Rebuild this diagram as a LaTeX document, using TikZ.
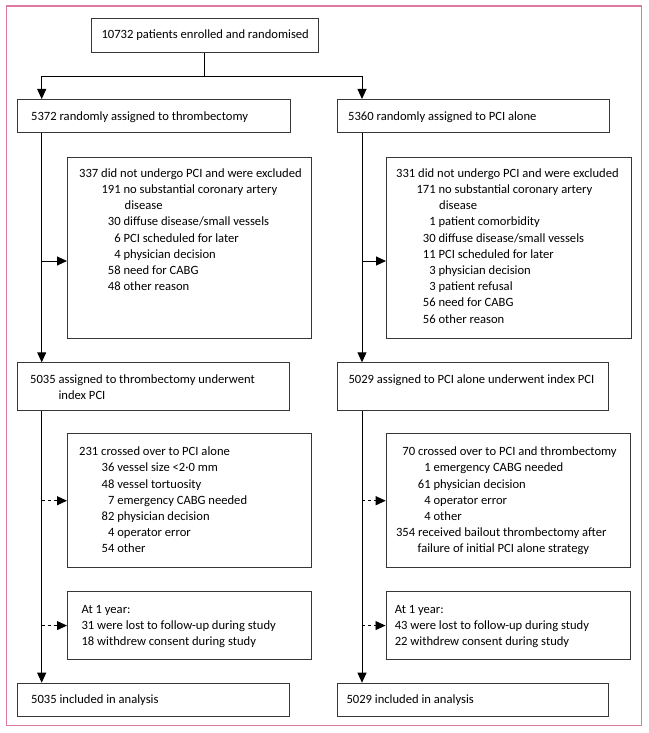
\documentclass[tikz,border=0pt]{standalone}
\usepackage{fontspec}
\setmainfont{Carlito}
\usetikzlibrary{arrows.meta}
\definecolor{framepink}{RGB}{222,122,162}
\definecolor{boxgray}{RGB}{55,55,55}
\newcommand{\nx}[2]{\makebox[#1][r]{#2}\ }
\newcommand{\rows}[1]{\begin{tabular}[t]{@{}l@{}}#1\end{tabular}}
\begin{document}
\begin{tikzpicture}[x=1pt,y=-1pt,
  box/.style={draw=boxgray, line width=0.85pt, inner sep=0pt, anchor=north west},
  txt/.style={inner sep=0pt, anchor=base west, font=\fontsize{12.6}{16.2}\selectfont},
  conn/.style={line width=0.9pt, -{Triangle[length=10pt,width=9pt]}},
  dconn/.style={conn, dash pattern=on 3pt off 3pt},
]
\useasboundingbox (0,0) rectangle (648,733);
\draw[framepink, line width=1.2pt] (6.3,6) rectangle (641.7,725.7);

% boxes
\node[box, minimum width=227pt, minimum height=34pt] (top) at (91,18.3) {};
\node[box, minimum width=272.5pt, minimum height=33.3pt] (A1) at (17,99) {};
\node[box, minimum width=271.5pt, minimum height=33.3pt] (B1) at (337,99) {};
\node[box, minimum width=243.7pt, minimum height=181.3pt] (A2) at (67,156.7) {};
\node[box, minimum width=244.5pt, minimum height=181.3pt] (B2) at (386,156.7) {};
\node[box, minimum width=272.3pt, minimum height=48pt] (A3) at (17,362.3) {};
\node[box, minimum width=271.3pt, minimum height=48pt] (B3) at (337,362.3) {};
\node[box, minimum width=243.7pt, minimum height=134pt] (A4) at (67,433.3) {};
\node[box, minimum width=244.3pt, minimum height=134pt] (B4) at (385.7,433.3) {};
\node[box, minimum width=243.7pt, minimum height=68.3pt] (A5) at (67,591) {};
\node[box, minimum width=244.5pt, minimum height=68.3pt] (B5) at (385.5,591) {};
\node[box, minimum width=272.3pt, minimum height=33.3pt] (A6) at (17,682.7) {};
\node[box, minimum width=271.3pt, minimum height=33.3pt] (B6) at (337,682.7) {};

% texts
\node[txt, anchor=base] (tTop) at (205.2,39) {10732 patients enrolled and randomised};
\node[txt] (tA1) at (31,120.7) {5372 randomly assigned to thrombectomy};
\node[txt] (tB1) at (348,120.7) {5360 randomly assigned to PCI alone};
\node[txt] (tA2) at (79,177.3) {\rows{337 did not undergo PCI and were excluded\\
 \nx{41.5pt}{191}no substantial coronary artery\\
 \hspace*{45.5pt}disease\\
 \nx{41.5pt}{30}diffuse disease/small vessels\\
 \nx{41.5pt}{6}PCI scheduled for later\\
 \nx{41.5pt}{4}physician decision\\
 \nx{41.5pt}{58}need for CABG\\
 \nx{41.5pt}{48}other reason}};
\node[txt] (tB2) at (396,177.3) {\rows{331 did not undergo PCI and were excluded\\
 \nx{39.5pt}{171}no substantial coronary artery\\
 \hspace*{43pt}disease\\
 \nx{39.5pt}{1}patient comorbidity\\
 \nx{39.5pt}{30}diffuse disease/small vessels\\
 \nx{39.5pt}{11}PCI scheduled for later\\
 \nx{39.5pt}{3}physician decision\\
 \nx{39.5pt}{3}patient refusal\\
 \nx{39.5pt}{56}need for CABG\\
 \nx{39.5pt}{56}other reason}};
\node[txt] (tA3) at (30,383.3) {\rows{5035 assigned to thrombectomy underwent\\
 \hspace*{28.3pt}index PCI}};
\node[txt] (tB3) at (348.3,383.3) {5029 assigned to PCI alone underwent index PCI};
\node[txt] (tA4) at (79,455.7) {\rows{231 crossed over to PCI alone\\
 \nx{35.3pt}{36}vessel size <2·0 mm\\
 \nx{35.3pt}{48}vessel tortuosity\\
 \nx{35.3pt}{7}emergency CABG needed\\
 \nx{35.3pt}{82}physician decision\\
 \nx{35.3pt}{4}operator error\\
 \nx{35.3pt}{54}other}};
\node[txt] (tB4) at (394,455.7) {\rows{\nx{21pt}{70}crossed over to PCI and thrombectomy\\
 \nx{36.5pt}{1}emergency CABG needed\\
 \nx{36.5pt}{61}physician decision\\
 \nx{36.5pt}{4}operator error\\
 \nx{36.5pt}{4}other\\
 \nx{21pt}{354}received bailout thrombectomy after\\
 \hspace*{23.5pt}failure of initial PCI alone strategy}};
\node[txt] (tA5) at (81.4,613.3) {\rows{At 1 year:\\
 31 were lost to follow-up during study\\
 18 withdrew consent during study}};
\node[txt] (tB5) at (394.6,613.3) {\rows{At 1 year:\\
 43 were lost to follow-up during study\\
 22 withdrew consent during study}};
\node[txt] (tA6) at (31,703.3) {5035 included in analysis};
\node[txt] (tB6) at (346.3,703.3) {5029 included in analysis};

% connectors
\coordinate (L) at (41.7,0);
\coordinate (R) at (362,0);
\coordinate (br) at (204.5,76.7);
\coordinate (eL) at (41.7,261);
\coordinate (eR) at (362,261);
\draw[conn] (top.south) -- (top.south |- br) -| (A1.north -| L);
\draw[conn] (top.south |- br) -| (B1.north -| R);
\draw[conn] (A1.south -| L) -- (A3.north -| L);
\draw[conn] (B1.south -| R) -- (B3.north -| R);
\draw[conn] (A3.south -| L) -- (A6.north -| L);
\draw[conn] (B3.south -| R) -- (B6.north -| R);
\draw[conn] (eL) -- (eL -| A2.west);
\draw[conn] (eR) -- (eR -| B2.west);
\draw[dconn] (A4.west -| L) -- (A4.west);
\draw[dconn] (B4.west -| R) -- (B4.west);
\draw[dconn] (A5.west -| L) -- (A5.west);
\draw[dconn] (B5.west -| R) -- (B5.west);
\end{tikzpicture}
\end{document}
